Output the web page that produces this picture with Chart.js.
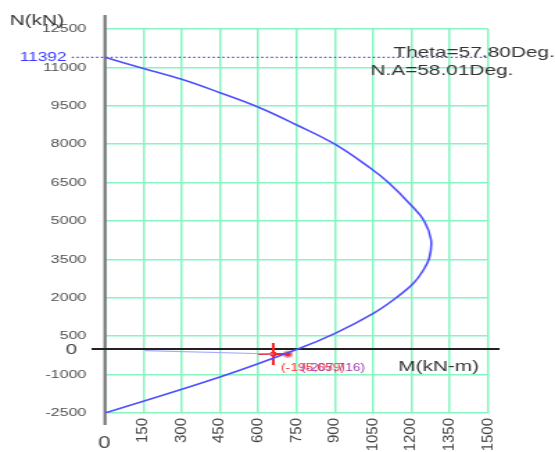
<!DOCTYPE html>
<html>
<head>
<meta charset="utf-8">
<script src="https://cdn.jsdelivr.net/npm/chart.js@4"></script>
<style>
  body { margin: 0; background: #fff; }
  #chart { display: block; }
</style>
</head>
<body>
<!-- drawn at 400px wide and stretched to 555px, like the original picture -->
<canvas id="chart" width="400" height="452" style="width:555px;height:452px"></canvas>
<script>
// DATA
const momentPts = [0, 144, 300, 450, 599, 751, 900, 1040, 1110, 1198, 1250, 1277, 1270, 1247, 1208, 1140, 1051, 901, 755, 450, 0];
const axialPts = [11392, 10977, 10535, 10012, 9453, 8750, 8000, 7059, 6500, 5625, 5000, 4258, 3555, 3086, 2566, 2000, 1395, 613, 0, -1094, -2500];
const xTicks = [0, 150, 300, 450, 600, 750, 900, 1050, 1200, 1350, 1500];
const yTicks = [-2500, -1000, 500, 2000, 3500, 5000, 6500, 8000, 9500, 11000, 12500];
const nMax = 11392;
const nMaxLineM = [-130, 1500];
const loadLineM = [156, 659];
const loadLineN = [-66, -195];
const loadPoint = [659, -195];
const capPoint = [716, -207];
const loadLabels = ["(-195,659)", "(-207,716)"];
const thetaText = "Theta=57.80Deg.";
const naText = "N.A=58.01Deg.";

const K = 555 / 400;
const FONT = '"Liberation Sans", Arial, sans-serif';

// OVERLAY: axes lines and labels
const overlay = {
    id: "overlay",
    beforeDatasetsDraw(chart) {
        const { ctx, scales: { x, y } } = chart;
        const x0 = x.getPixelForValue(0);
        const y0 = y.getPixelForValue(0);
        ctx.save();
        ctx.strokeStyle = "#777";
        ctx.lineWidth = 2.2;
        ctx.beginPath();
        ctx.moveTo(x0, 15);
        ctx.lineTo(x0, 425);
        ctx.stroke();
        ctx.strokeStyle = "#222";
        ctx.lineWidth = 2;
        ctx.beginPath();
        ctx.moveTo(66, y0);
        ctx.lineTo(360, y0);
        ctx.stroke();
        ctx.restore();
    },
    afterDraw(chart) {
        const { ctx, scales: { x, y } } = chart;
        ctx.save();
        ctx.fillStyle = "#333";
        ctx.font = "15px " + FONT;
        ctx.textBaseline = "alphabetic";
        ctx.textAlign = "left";
        ctx.fillText("N(kN)", 7, 25);
        ctx.fillText(thetaText, 283.5, 57);
        ctx.fillText(naText, 267, 75);
        ctx.fillText("M(kN-m)", 287, 371);

        // zero labels
        ctx.fillStyle = "#444";
        ctx.textAlign = "right";
        ctx.fillText("0", 55.5, y.getPixelForValue(0) + 5);
        ctx.font = "16px " + FONT;
        ctx.textAlign = "center";
        ctx.fillText("0", x.getPixelForValue(0) - 0.5, 448);

        // Nmax label
        ctx.fillStyle = "#3a3aff";
        ctx.font = "12.5px " + FONT;
        ctx.textAlign = "right";
        ctx.textBaseline = "middle";
        ctx.fillText(String(nMax), 48, y.getPixelForValue(nMax));

        // rotated moment ticks
        ctx.fillStyle = "#444";
        ctx.font = "15px " + FONT;
        xTicks.forEach(v => {
            if (v === 0) return;
            ctx.save();
            ctx.translate(x.getPixelForValue(v), 418);
            ctx.rotate(-Math.PI / 2);
            ctx.scale(1, 0.68);
            ctx.textAlign = "right";
            ctx.textBaseline = "middle";
            ctx.fillText(String(v), 0, 0);
            ctx.restore();
        });

        // load point labels
        ctx.font = "10px " + FONT;
        ctx.textAlign = "left";
        ctx.textBaseline = "alphabetic";
        ctx.fillStyle = "#ff3030";
        ctx.fillText(loadLabels[0], 202.5, 371);
        ctx.fillStyle = "#9a40b0";
        ctx.fillText(loadLabels[1], 217, 371);
        ctx.restore();
    }
};

const gridColor = "#86f5c2";

new Chart(document.getElementById("chart"), {
    type: "scatter",
    data: {
        datasets: [
            {
                data: loadLineM.map((m, i) => ({ x: m, y: loadLineN[i] })),
                showLine: true,
                borderColor: "#a8a8ff",
                borderWidth: 1.2,
                pointRadius: 0
            },
            {
                data: momentPts.map((m, i) => ({ x: m, y: axialPts[i] })),
                showLine: true,
                borderColor: "#4f4fff",
                borderWidth: 1.6,
                tension: 0.4,
                pointRadius: 0
            },
            {
                data: nMaxLineM.map(m => ({ x: m, y: nMax })),
                showLine: true,
                borderColor: "#4444ff",
                borderWidth: 1.3,
                borderDash: [1.5, 2],
                pointRadius: 0,
                clip: false
            },
            {
                data: [{ x: loadPoint[0], y: loadPoint[1] }],
                pointStyle: "cross",
                pointRadius: 11,
                borderColor: "#ff2020",
                borderWidth: 2
            },
            {
                data: [{ x: loadPoint[0], y: loadPoint[1] }],
                pointRadius: 2.5,
                backgroundColor: "#ff2020",
                borderColor: "#ff2020",
                borderWidth: 0
            },
            {
                data: [{ x: capPoint[0], y: capPoint[1] }],
                pointRadius: 3,
                backgroundColor: "#ff2020",
                borderColor: "#f2a6b0",
                borderWidth: 1.5
            }
        ]
    },
    options: {
        responsive: false,
        devicePixelRatio: 1,
        animation: false,
        layout: { padding: { left: 0, right: 48.3, top: 29, bottom: 0 } },
        plugins: {
            legend: { display: false },
            tooltip: { enabled: false }
        },
        scales: {
            x: {
                type: "linear",
                min: 0,
                max: 1500,
                afterBuildTicks: scale => { scale.ticks = xTicks.map(v => ({ value: v })); },
                afterFit: scale => { scale.height = 39; },
                ticks: { display: false },
                grid: { color: gridColor, lineWidth: 1.5, drawTicks: false },
                border: { display: false }
            },
            y: {
                type: "linear",
                min: -2500,
                max: 12500,
                afterBuildTicks: scale => { scale.ticks = yTicks.map(v => ({ value: v })); },
                afterFit: scale => { scale.width = 105 / K; },
                ticks: {
                    color: "#505050",
                    padding: 13.5,
                    font: { family: FONT, size: 11.5 },
                    callback: v => String(v)
                },
                grid: { color: gridColor, lineWidth: 1.5, drawTicks: false },
                border: { display: false }
            }
        }
    },
    plugins: [overlay]
});
</script>
</body>
</html>
